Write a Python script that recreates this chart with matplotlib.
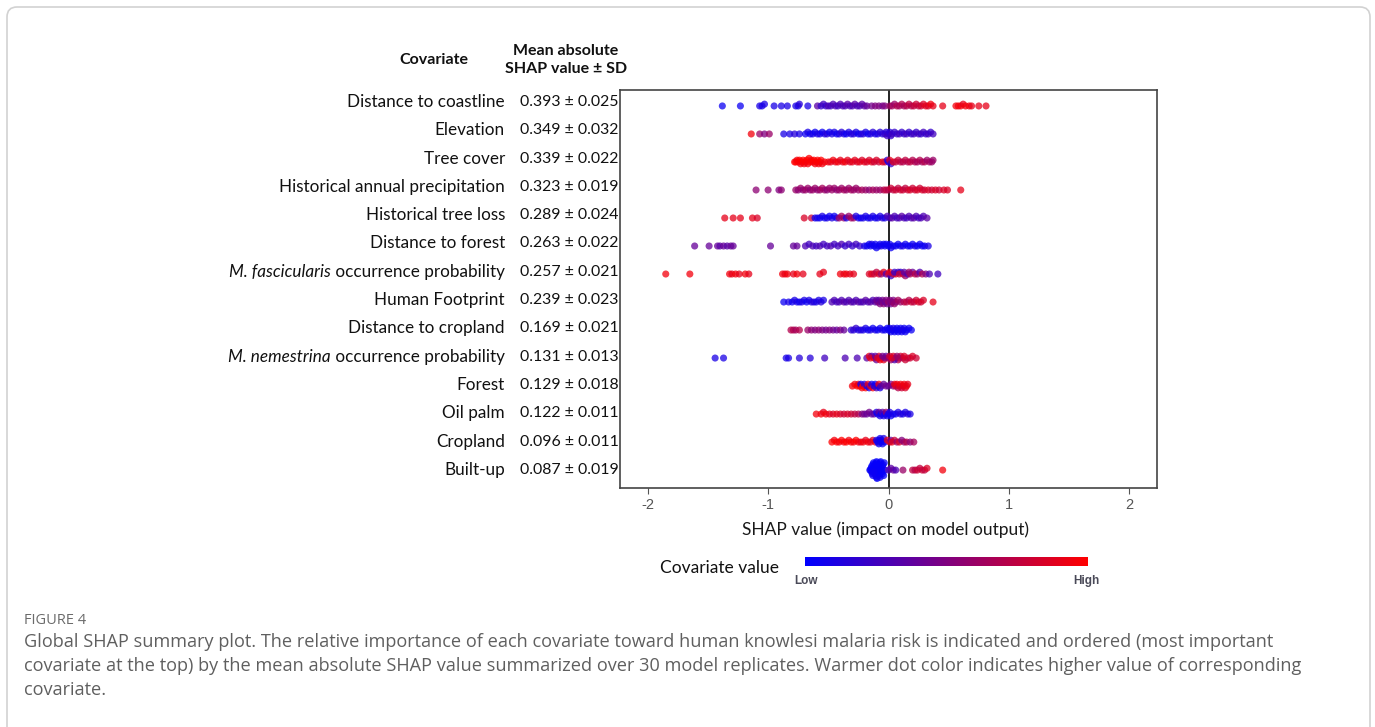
import numpy as np
import matplotlib
matplotlib.use("Agg")
import matplotlib.pyplot as plt
from matplotlib.colors import LinearSegmentedColormap
from matplotlib.patches import FancyBboxPatch
from matplotlib.transforms import IdentityTransform

plt.rcParams['font.family'] = ['Lato', 'DejaVu Sans']

# covariates, top to bottom
covariates = ["Distance to coastline", "Elevation", "Tree cover",
              "Historical annual precipitation", "Historical tree loss",
              "Distance to forest", "M. fascicularis occurrence probability",
              "Human Footprint", "Distance to cropland",
              "M. nemestrina occurrence probability", "Forest", "Oil palm",
              "Cropland", "Built-up"]
mean_abs = [0.393, 0.349, 0.339, 0.323, 0.289, 0.263, 0.257, 0.239, 0.169,
            0.131, 0.129, 0.122, 0.096, 0.087]
sd = [0.025, 0.032, 0.022, 0.019, 0.024, 0.022, 0.021, 0.023, 0.021, 0.013,
      0.018, 0.011, 0.011, 0.019]

# SHAP values (x) and scaled covariate values (c, 0 = low, 1 = high) per row
coast_x = [-1.38, -1.23, -1.07, -1.05, -1.03, -0.95, -0.89, -0.84, -0.77, -0.75,
           -0.74, -0.67, -0.59, -0.56, -0.54, -0.52, -0.50, -0.48, -0.46, -0.44,
           -0.42, -0.40, -0.38, -0.36, -0.34, -0.32, -0.30, -0.28, -0.26, -0.24,
           -0.22, -0.20, -0.18, -0.14, -0.11, -0.08, -0.05, -0.03, 0.01, 0.03,
           0.05, 0.07, 0.09, 0.11, 0.13, 0.15, 0.17, 0.19, 0.21, 0.23,
           0.25, 0.27, 0.29, 0.31, 0.33, 0.35, 0.37, 0.45, 0.56, 0.58,
           0.60, 0.62, 0.64, 0.67, 0.69, 0.75, 0.81]
coast_c = [.05, .05, .1, .1, .1, .1, .1, .1, .1, .1,
           .15, .1, .35, .2, .25, .2, .3, .25, .3, .3,
           .25, .3, .3, .3, .35, .3, .3, .35, .3, .3,
           .35, .35, .4, .45, .5, .5, .45, .5, .6, .65,
           .6, .7, .65, .7, .65, .7, .75, .7, .75, .8,
           .75, .8, .85, .9, .85, .95, .9, .9, .95, .95,
           .95, .9, .95, .95, .9, .9, .9]

elev_x = [-1.14, -1.07, -1.03, -0.99, -0.87, -0.82, -0.78, -0.74, -0.69, -0.67,
          -0.65, -0.63, -0.61, -0.59, -0.57, -0.55, -0.53, -0.51, -0.49, -0.47,
          -0.45, -0.43, -0.41, -0.39, -0.37, -0.35, -0.33, -0.31, -0.29, -0.27,
          -0.25, -0.23, -0.21, -0.19, -0.17, -0.15, -0.13, -0.11, -0.09, -0.07,
          -0.05, -0.03, -0.02, -0.01, 0.00, 0.01, 0.02, 0.03, 0.05, 0.07,
          0.09, 0.11, 0.13, 0.15, 0.17, 0.19, 0.21, 0.23, 0.25, 0.27,
          0.29, 0.31, 0.33, 0.35, 0.37]
elev_c = [.95, .6, .5, .6, .1, .1, .15, .1, .05, .1,
          .05, .1, .05, .1, .1, .05, .1, .15, .05, .1,
          .1, .05, .1, .15, .1, .05, .1, .1, .15, .1,
          .05, .1, .15, .1, .05, .1, .15, .1, .1, .15,
          .15, .2, .15, .25, .2, .15, .2, .25, .2, .2,
          .25, .2, .2, .25, .2, .2, .25, .2, .25, .2,
          .25, .2, .25, .2, .25]

tree_x = [-0.78, -0.77, -0.76, -0.75, -0.74, -0.73, -0.72, -0.71, -0.70, -0.69,
          -0.68, -0.67, -0.66, -0.65, -0.64, -0.63, -0.62, -0.61, -0.60, -0.59,
          -0.58, -0.57, -0.56, -0.55, -0.53, -0.50, -0.48, -0.46, -0.44, -0.42,
          -0.40, -0.38, -0.36, -0.34, -0.32, -0.30, -0.28, -0.26, -0.24, -0.22,
          -0.20, -0.18, -0.16, -0.14, -0.12, -0.10, -0.08, -0.05, -0.03, -0.01,
          0.00, 0.01, 0.02, 0.04, 0.06, 0.08, 0.10, 0.12, 0.14, 0.16,
          0.18, 0.20, 0.22, 0.24, 0.26, 0.28, 0.30, 0.32, 0.34, 0.36,
          0.37]
tree_c = [1, 1, .95, 1, 1, .95, 1, 1, .95, 1,
          1, .95, 1, 1, .95, 1, 1, .95, 1, 1,
          .95, 1, 1, .95, .95, .95, .9, .95, .9, .95,
          .9, .9, .95, .9, .85, .9, .9, .85, .9, .85,
          .9, .85, .85, .9, .8, .85, .8, .9, .8, .15,
          .1, .9, .2, .9, .75, .8, .75, .7, .75, .7,
          .75, .7, .7, .65, .7, .65, .7, .6, .65, .6,
          .6]

precip_x = [-1.10, -1.00, -0.91, -0.89, -0.77, -0.75, -0.73, -0.71, -0.69, -0.67,
            -0.65, -0.63, -0.61, -0.59, -0.57, -0.55, -0.53, -0.51, -0.49, -0.47,
            -0.45, -0.43, -0.41, -0.39, -0.37, -0.35, -0.33, -0.31, -0.29, -0.27,
            -0.25, -0.22, -0.19, -0.16, -0.13, -0.10, -0.07, -0.04, -0.02, 0.00,
            0.02, 0.04, 0.06, 0.08, 0.10, 0.12, 0.14, 0.16, 0.18, 0.20,
            0.22, 0.24, 0.26, 0.28, 0.30, 0.33, 0.36, 0.39, 0.42, 0.46,
            0.49, 0.60]
precip_c = [.55, .55, .5, .55, .6, .55, .6, .55, .6, .6,
            .55, .6, .6, .55, .6, .65, .6, .55, .6, .6,
            .6, .55, .6, .6, .65, .6, .6, .65, .6, .6,
            .6, .65, .6, .55, .65, .6, .6, .7, .75, .7,
            .8, .75, .8, .75, .8, .8, .75, .8, .85, .8,
            .8, .85, .8, .85, .8, .85, .8, .85, .8, .85,
            .85, .9]

loss_x = [-1.36, -1.29, -1.23, -1.13, -1.09, -0.70, -0.64, -0.61, -0.59, -0.57,
          -0.55, -0.53, -0.51, -0.49, -0.47, -0.45, -0.43, -0.41, -0.39, -0.37,
          -0.35, -0.33, -0.31, -0.29, -0.27, -0.25, -0.23, -0.21, -0.19, -0.17,
          -0.15, -0.13, -0.11, -0.09, -0.07, -0.05, -0.03, -0.01, 0.01, 0.03,
          0.05, 0.07, 0.09, 0.11, 0.13, 0.15, 0.17, 0.19, 0.21, 0.23,
          0.25, 0.27, 0.29, 0.32]
loss_c = [.9, .9, .9, .9, .85, .85, .8, .05, .1, .05,
          .1, .05, .1, .05, .1, .05, .1, .6, .65, .6,
          .1, .6, .65, .6, .1, .1, .05, .1, .1, .05,
          .1, .1, .05, .1, .1, .15, .1, .3, .25, .35,
          .3, .25, .3, .35, .3, .25, .3, .3, .35, .3,
          .25, .3, .3, .35]

fdist_x = [-1.61, -1.49, -1.42, -1.40, -1.37, -1.34, -1.31, -1.29, -0.98, -0.79,
           -0.76, -0.69, -0.66, -0.63, -0.60, -0.57, -0.54, -0.51, -0.48, -0.45,
           -0.42, -0.39, -0.36, -0.33, -0.30, -0.27, -0.24, -0.20, -0.18, -0.16,
           -0.14, -0.12, -0.10, -0.08, -0.06, -0.04, -0.02, 0.00, 0.02, 0.04,
           0.06, 0.08, 0.10, 0.12, 0.14, 0.16, 0.18, 0.20, 0.22, 0.24,
           0.26, 0.28, 0.30, 0.33, -0.15, -0.11, -0.07, -0.03, 0.01]
fdist_c = [.4, .4, .4, .35, .4, .35, .4, .4, .4, .4,
           .4, .3, .25, .3, .25, .3, .25, .25, .3, .25,
           .25, .3, .2, .25, .2, .25, .2, .1, .05, .05,
           .1, .05, .05, .05, .1, .05, .05, .05, .05, .1,
           .05, .05, .05, .1, .05, .05, .05, .05, .1, .05,
           .05, .05, .05, .1, .05, .05, .05, .05, .05]

fasc_x = [-1.85, -1.65, -1.32, -1.30, -1.27, -1.24, -1.19, -1.16, -0.88, -0.86,
          -0.84, -0.79, -0.76, -0.71, -0.57, -0.54, -0.40, -0.37, -0.35, -0.32,
          -0.29, -0.16, -0.14, -0.12, -0.10, -0.08, -0.06, -0.04, -0.02, 0.00,
          0.02, 0.04, 0.06, 0.08, 0.10, 0.12, 0.14, 0.16, 0.18, 0.20,
          0.22, 0.24, 0.26, 0.28, 0.31, 0.34, 0.41, 0.01, 0.05, 0.09,
          0.13, 0.17]
fasc_c = [.95, .95, .95, .9, .95, .9, .95, .9, .95, .9,
          .95, .9, .95, .9, .9, .9, .95, .9, .95, .9,
          .9, .85, .9, .8, .75, .85, .6, .9, .3, .8,
          .2, .7, .85, .3, .15, .8, .6, .25, .7, .4,
          .75, .6, .3, .7, .5, .3, .25, .9, .2, .8,
          .35, .6]

foot_x = [-0.87, -0.83, -0.80, -0.78, -0.76, -0.74, -0.72, -0.70, -0.68, -0.66,
          -0.64, -0.62, -0.60, -0.58, -0.56, -0.54, -0.47, -0.45, -0.43, -0.41,
          -0.39, -0.37, -0.35, -0.33, -0.31, -0.29, -0.27, -0.25, -0.23, -0.21,
          -0.19, -0.17, -0.15, -0.13, -0.11, -0.10, -0.09, -0.08, -0.07, -0.06,
          -0.05, -0.04, -0.03, -0.02, -0.01, 0.00, 0.01, 0.02, 0.03, 0.04,
          0.05, 0.06, 0.08, 0.10, 0.13, 0.15, 0.17, 0.19, 0.21, 0.23,
          0.25, 0.27, 0.29, 0.37]
foot_c = [.05, .1, .05, .1, .1, .05, .1, .1, .05, .1,
          .1, .15, .1, .1, .15, .1, .3, .3, .25, .3,
          .3, .35, .3, .3, .35, .3, .3, .35, .3, .3,
          .35, .3, .35, .3, .35, .4, .45, .35, .5, .4,
          .45, .55, .4, .5, .45, .6, .5, .45, .55, .5,
          .6, .55, .65, .6, .7, .75, .7, .8, .75, .8,
          .85, .8, .85, .9]

cdist_x = [-0.81, -0.79, -0.77, -0.74, -0.67, -0.64, -0.61, -0.58, -0.55, -0.52,
           -0.49, -0.46, -0.43, -0.40, -0.37, -0.31, -0.29, -0.27, -0.25, -0.23,
           -0.21, -0.19, -0.17, -0.15, -0.13, -0.11, -0.09, -0.07, -0.05, -0.03,
           -0.01, 0.01, 0.03, 0.05, 0.07, 0.09, 0.11, 0.13, 0.15, 0.17,
           0.19, 0.00, 0.02, 0.04, 0.06, 0.08, 0.10, 0.12, 0.14]
cdist_c = [.7, .7, .65, .7, .6, .55, .5, .55, .5, .45,
           .5, .45, .4, .5, .4, .2, .15, .2, .1, .15,
           .1, .1, .05, .1, .05, .1, .05, .05, .1, .05,
           .05, .05, .1, .05, .05, .1, .05, .05, .1, .05,
           .05, .05, .05, .1, .05, .05, .05, .1, .05]

nem_x = [-1.44, -1.37, -0.85, -0.83, -0.74, -0.65, -0.53, -0.36, -0.26, -0.18,
         -0.16, -0.14, -0.12, -0.10, -0.08, -0.06, -0.04, -0.02, 0.00, 0.02,
         0.04, 0.06, 0.08, 0.10, 0.12, 0.14, 0.16, 0.18, 0.20, 0.23,
         -0.15, -0.11, -0.07, -0.03, 0.01, 0.05, 0.09, 0.13, -0.09, -0.05,
         0.03, 0.07]
nem_c = [.1, .1, .1, .1, .15, .15, .25, .3, .3, .35,
         .9, .3, .95, .4, .85, .5, .9, .35, .8, .6,
         .85, .4, .75, .8, .7, .8, .75, .8, .85, .8,
         .9, .35, .95, .5, .8, .3, .7, .85, .9, .45,
         .9, .6]

forest_x = [-0.30, -0.28, -0.26, -0.25, -0.24, -0.23, -0.22, -0.21, -0.20, -0.19,
            -0.18, -0.17, -0.16, -0.15, -0.14, -0.13, -0.12, -0.11, -0.10, -0.09,
            -0.08, -0.07, -0.06, -0.04, -0.02, 0.00, 0.02, 0.04, 0.05, 0.06,
            0.07, 0.08, 0.09, 0.10, 0.11, 0.12, 0.13, 0.14, 0.15, 0.16]
forest_c = [.95, .95, 1, .9, 1, .05, .95, 1, .1, 1,
            .05, .95, .1, .9, .05, 1, .1, .05, .3, .1,
            .95, .1, .35, .4, .45, .4, .45, .5, .9, .85,
            .95, .7, .9, .95, .8, .9, .95, .85, .95, .9]

oil_x = [-0.60, -0.56, -0.54, -0.52, -0.49, -0.46, -0.43, -0.40, -0.37, -0.34,
         -0.31, -0.28, -0.25, -0.22, -0.20, -0.18, -0.16, -0.14, -0.12, -0.10,
         -0.09, -0.08, -0.07, -0.06, -0.05, -0.04, -0.03, -0.02, -0.01, 0.00,
         0.01, 0.02, 0.04, 0.06, 0.08, 0.10, 0.12, 0.14, 0.16, 0.18]
oil_c = [.95, .95, .9, .95, .9, .85, .9, .85, .8, .85,
         .8, .75, .7, .5, .45, .4, .45, .4, .35, .1,
         .05, .4, .1, .05, .35, .1, .05, .6, .1, .05,
         .1, .05, .1, .05, .1, .15, .1, .1, .15, .1]

crop_x = [-0.47, -0.45, -0.43, -0.41, -0.39, -0.37, -0.35, -0.33, -0.31, -0.29,
          -0.27, -0.25, -0.23, -0.21, -0.19, -0.17, -0.15, -0.13, -0.11, -0.10,
          -0.09, -0.08, -0.08, -0.07, -0.06, -0.06, -0.05, -0.04, -0.03, -0.01,
          0.01, 0.02, 0.03, 0.05, 0.07, 0.09, 0.11, 0.13, 0.15, 0.18,
          0.21]
crop_c = [1, .95, 1, .95, 1, .95, 1, .95, 1, .95,
          1, .95, .9, .95, .9, .95, .9, .85, .9, .05,
          .05, .1, .05, .05, .1, .05, .05, .1, .05, .9,
          .85, .4, .9, .8, .6, .85, .5, .6, .7, .55,
          .65]

built_x = [-0.155, -0.15, -0.145, -0.14, -0.135, -0.13, -0.125, -0.12, -0.115, -0.11,
           -0.105, -0.10, -0.095, -0.09, -0.085, -0.08, -0.075, -0.07, -0.065, -0.06,
           -0.055, -0.05, -0.045, -0.04, -0.035, -0.03, -0.14, -0.13, -0.12, -0.11,
           -0.10, -0.09, -0.08, -0.07, -0.06, -0.05, -0.12, -0.10, -0.08, 0.00,
           0.02, 0.04, 0.06, 0.12, 0.20, 0.22, 0.24, 0.26, 0.28, 0.30,
           0.32, 0.45]
built_c = [.02, .05, .02, .02, .05, .02, .02, .05, .02, .02,
           .05, .02, .02, .05, .02, .02, .05, .02, .02, .05,
           .02, .02, .05, .02, .02, .05, .02, .05, .02, .02,
           .05, .02, .02, .05, .02, .02, .05, .02, .02, .3,
           .35, .4, .3, .6, .75, .7, .8, .75, .8, .75,
           .85, .95]

rows_x = [coast_x, elev_x, tree_x, precip_x, loss_x, fdist_x, fasc_x,
          foot_x, cdist_x, nem_x, forest_x, oil_x, crop_x, built_x]
rows_c = [coast_c, elev_c, tree_c, precip_c, loss_c, fdist_c, fasc_c,
          foot_c, cdist_c, nem_c, forest_c, oil_c, crop_c, built_c]
for xs, cs in zip(rows_x, rows_c):
    assert len(xs) == len(cs)


def swarm(xs, bin_w=0.03, step=0.065, cap=0.3):
    # simple beeswarm: stack points that share an x bin, alternating up/down
    xs = np.asarray(xs, dtype=float)
    q = np.floor(xs / bin_w).astype(int)
    ys = np.zeros(len(xs))
    last, layer = None, 0
    for i in np.lexsort((xs, q)):
        if q[i] != last:
            last, layer = q[i], 0
        ys[i] = np.ceil(layer / 2) * (1 if layer % 2 else -1)
        layer += 1
    return np.clip(ys * step, -cap, cap)


W, H = 1375, 727
def fx(p):
    return p / W
def fy(p):
    return 1 - p / H

cmap = LinearSegmentedColormap.from_list("bluered", ["#0000ff", "#ff0000"])
fig = plt.figure(figsize=(13.75, 7.27), dpi=100)

ax = fig.add_axes([fx(620), fy(488), fx(1157) - fx(620), fy(90) - fy(488)])
n = len(covariates)
ax.axvline(0, color="#222222", lw=1.4, zorder=1)
for i, (xs, cs) in enumerate(zip(rows_x, rows_c)):
    ypos = n - 1 - i + swarm(xs)
    ax.scatter(xs, ypos, c=cs, cmap=cmap, vmin=0, vmax=1, s=26,
               alpha=0.75, linewidths=0, zorder=3)
ax.set_xlim(-2.23, 2.23)
ax.set_ylim(-0.64, 13.57)
ax.set_yticks([])
ax.set_xticks([-2, -1, 0, 1, 2])
ax.set_xticklabels(["-2", "-1", "0", "1", "2"], family="Liberation Sans",
                   fontsize=10.5, color="#555555")
ax.tick_params(axis="x", direction="out", length=4, color="#555555", pad=3)
for sp in ax.spines.values():
    sp.set_color("#444444")
    sp.set_linewidth(1.2)

fig.text(fx(886), fy(530), "SHAP value (impact on model output)", ha="center",
         va="center", fontsize=12.5, color="#1a1a1a")

# headers
fig.text(fx(434), fy(60), "Covariate", ha="center", va="center",
         fontsize=11.5, fontweight="bold", color="#111111")
fig.text(fx(566), fy(60), "Mean absolute\nSHAP value \u00b1 SD", ha="center",
         va="center", fontsize=11.5, fontweight="bold", color="#111111",
         linespacing=1.35)

renderer = fig.canvas.get_renderer()
for i, name in enumerate(covariates):
    ty = fy(102 + 28.3 * i)
    if name.startswith("M. "):
        parts = name.split(" ")
        ital, rest = " ".join(parts[:2]), " " + " ".join(parts[2:])
        t = fig.text(fx(505), ty, rest, ha="right", va="center",
                     fontsize=12.3, color="#111111")
        bb = t.get_window_extent(renderer)
        fig.text(bb.x0 / W, ty, ital, ha="right", va="center",
                 fontsize=12.3, style="italic", color="#111111")
    else:
        fig.text(fx(505), ty, name, ha="right", va="center",
                 fontsize=12.3, color="#111111")
    fig.text(fx(520), ty, f"{mean_abs[i]:.3f} \u00b1 {sd[i]:.3f}", ha="left",
             va="center", fontsize=11.4, color="#111111")

# colour bar
cax = fig.add_axes([fx(805), fy(566), fx(1088) - fx(805), fy(557) - fy(566)])
cax.imshow(np.linspace(0, 1, 256)[None, :], aspect="auto", cmap=cmap,
           extent=[0, 1, 0, 1])
cax.set_axis_off()
fig.text(fx(660), fy(568), "Covariate value", ha="left", va="center",
         fontsize=12.5, color="#111111")
fig.text(fx(806), fy(581), "Low", ha="center", va="center", fontsize=8.5,
         fontweight="bold", family="Liberation Sans", color="#4a4a58")
fig.text(fx(1086), fy(581), "High", ha="center", va="center", fontsize=8.5,
         fontweight="bold", family="Liberation Sans", color="#4a4a58")

# caption
fig.text(fx(24), fy(620), "FIGURE 4", ha="left", va="center", fontsize=10.5,
         family="Open Sans", color="#6b6b6b")
caption = ["Global SHAP summary plot. The relative importance of each covariate toward human knowlesi malaria risk is indicated and ordered (most important",
           "covariate at the top) by the mean absolute SHAP value summarized over 30 model replicates. Warmer dot color indicates higher value of corresponding",
           "covariate."]
for k, line in enumerate(caption):
    fig.text(fx(24), fy(642 + 24 * k), line, ha="left", va="center",
             fontsize=13.1, family="Open Sans", color="#5f5f5f")

frame = FancyBboxPatch((7, -40), 1363, 760,
                       boxstyle="round,pad=0,rounding_size=10",
                       transform=IdentityTransform(), fill=False,
                       ec="#d2d2d2", lw=1.2)
fig.add_artist(frame)

fig.savefig("out.png", dpi=100, facecolor="white")
